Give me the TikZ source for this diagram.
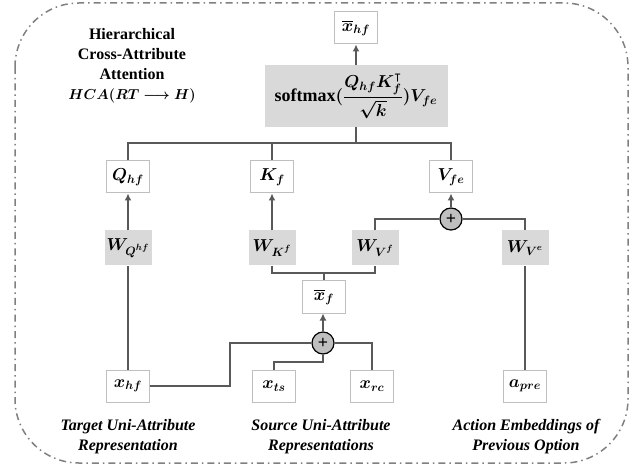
\documentclass[tikz,border=0pt]{standalone}
\usepackage{amsmath,amssymb}
\usepackage{fontspec}
\setmainfont{Liberation Serif}
\usepackage{bm}
\usetikzlibrary{arrows.meta,calc}
\definecolor{boxborder}{HTML}{BFBFBF}
\definecolor{graybox}{HTML}{D9D9D9}
\definecolor{plusgray}{HTML}{BFBFBF}
\definecolor{linegray}{HTML}{595959}
\definecolor{framegray}{HTML}{808080}
\tikzset{
  wbox/.style={draw=boxborder, fill=white, minimum width=43pt, minimum height=32pt, inner sep=0pt, line width=1pt, font=\fontsize{18}{22}\selectfont},
  gbox/.style={fill=graybox, minimum width=47pt, minimum height=35pt, inner sep=0pt, font=\fontsize{18}{22}\selectfont},
  plusnode/.style={circle, draw=black, fill=plusgray, minimum size=22pt, inner sep=0pt, line width=1.2pt, font=\fontsize{18}{18}\selectfont\bfseries},
  conn/.style={draw=linegray, line width=1.5pt},
  arr/.style={conn, -{Latex[length=7pt,width=7pt]}},
  lbl/.style={align=center, font=\fontsize{16}{20}\selectfont\bfseries\itshape},
}
\begin{document}
\begin{tikzpicture}[x=1pt,y=-1pt,font=\fontsize{16}{20}\selectfont]
\useasboundingbox (0,0) rectangle (637,470);
\draw[framegray, line width=1.5pt, dash pattern=on 7pt off 4pt on 1.5pt off 4pt, rounded corners=64pt] (15,3) rectangle (628,463);

\node[align=center, font=\fontsize{16}{20}\selectfont\bfseries] (title) at (132,66) {Hierarchical\\Cross-Attribute\\Attention\\{\fontsize{14}{20}\selectfont$\bm{HCA(RT \longrightarrow H)}$}};

\node[wbox] (xhfbar) at (356,28) {$\bm{\overline{x}_{hf}}$};
\node[fill=graybox, minimum width=183pt, minimum height=62pt, inner sep=0pt, font=\fontsize{18}{22}\selectfont] (soft) at (356,96) {\bfseries softmax$\bm{(\dfrac{Q_{hf}K_f^{\intercal}}{\sqrt{k}})V_{fe}}$};

\node[wbox] (Q) at (128,177) {$\bm{Q_{hf}}$};
\node[wbox] (K) at (272,177) {$\bm{K_{f}}$};
\node[wbox] (V) at (451,177) {$\bm{V_{fe}}$};

\node[gbox] (WQ) at (128,248) {$\bm{W_{Q^{hf}}}$};
\node[gbox] (WK) at (272,248) {$\bm{W_{K^{f}}}$};
\node[gbox] (WVf) at (375,248) {$\bm{W_{V^{f}}}$};
\node[gbox] (WVe) at (525,248) {$\bm{W_{V^{e}}}$};

\node[plusnode] (p1) at (451,219) {+};
\node[wbox] (xf) at (324,297) {$\bm{\overline{x}_{f}}$};
\node[plusnode] (p2) at (323,343) {+};

\node[wbox] (xhf) at (128,386) {$\bm{x_{hf}}$};
\node[wbox] (xts) at (274,386) {$\bm{x_{ts}}$};
\node[wbox] (xrc) at (372,386) {$\bm{x_{rc}}$};
\node[wbox] (apre) at (525,386) {$\bm{a_{pre}}$};

\node[lbl] (l1) at (128,437) {Target Uni-Attribute\\Representation};
\node[lbl] (l2) at (321,437) {Source Uni-Attribute\\Representations};
\node[lbl] (l3) at (526,437) {Action Embeddings of\\Previous Option};

\coordinate (bus) at (356,143);
\coordinate (bus2) at (324,273);
\coordinate (c1) at (230,343);
\coordinate (c2) at (323,362);

\draw[arr] (soft.north) -- (xhfbar.south);
\draw[conn] (soft.south) -- (bus);
\draw[conn] (Q.north) |- (bus) -| (V.north);
\draw[conn] (K.north) -- (K.north |- bus);

\draw[arr] (WQ.north) -- (Q.south);
\draw[arr] (WK.north) -- (K.south);
\draw[arr] (p1.north) -- (V.south);
\draw[conn] (WVf.north) |- (p1.west);
\draw[conn] (WVe.north) |- (p1.east);
\draw[conn] (apre.north) -- (WVe.south);
\draw[conn] (xhf.north) -- (WQ.south);

\draw[conn] (WK.south) |- (bus2) -| (WVf.south);
\draw[conn] (xf.north) -- (bus2);
\draw[arr] (p2.north) -- (p2.north |- xf.south);
\draw[conn] (xhf.east) -| (c1) -- (p2.west);
\draw[conn] (xts.north) |- (c2) -- (p2.south);
\draw[conn] (xrc.north) |- (p2.east);
\end{tikzpicture}
\end{document}
